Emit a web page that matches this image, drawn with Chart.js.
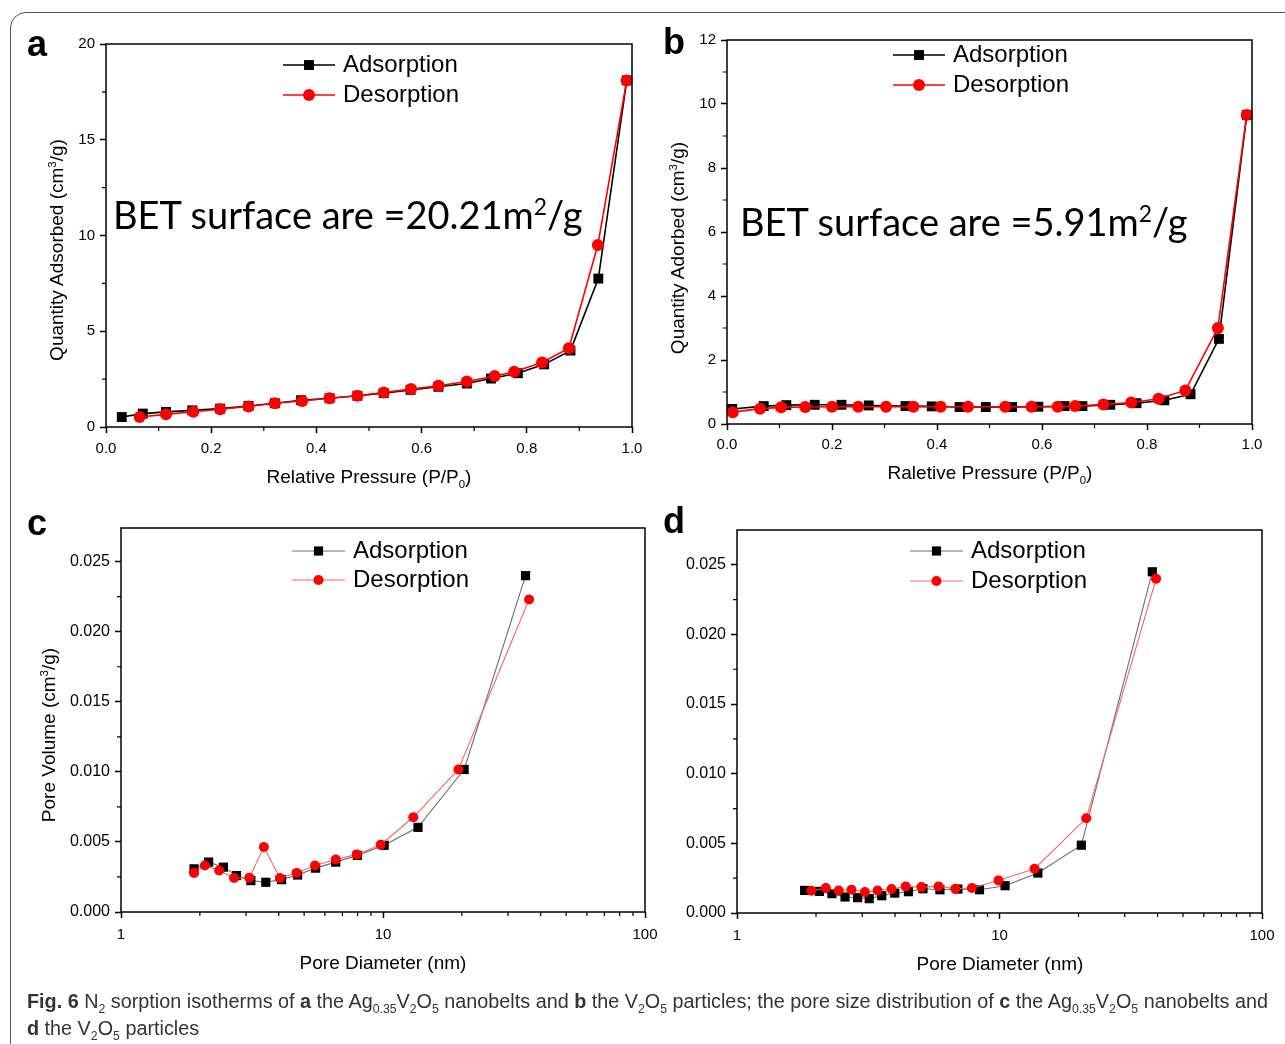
<!DOCTYPE html>
<html>
<head>
<meta charset="utf-8">
<script src="https://cdn.jsdelivr.net/npm/chart.js@4.4.0/dist/chart.umd.min.js"></script>
<style>
html, body { margin: 0; padding: 0; background: #fff; overflow: hidden; }
#page { position: relative; width: 1285px; height: 1044px; overflow: hidden; font-family: "Liberation Sans", Arial, sans-serif; }
#page canvas { position: absolute; left: 0; top: 0; }
.frame { position: absolute; left: 10px; top: 12px; width: 1320px; height: 1100px; border: 1.5px solid #555; border-radius: 16px; }
.t { position: absolute; white-space: nowrap; transform: translate(-50%, -50%); color: #000; }
.rot { transform: translate(-50%, -50%) rotate(-90deg); }
.letter { font-weight: bold; font-size: 36px; }
.axt { font-size: 19px; }
.axt sub, .axt sup { font-size: 60%; }
.bet { font-family: Lato, "Open Sans", sans-serif; font-size: 38px; transform: translate(0, -50%); }
.bet sup { font-size: 60%; }
#cap { position: absolute; left: 27px; top: 988px; font-family: "Liberation Sans", Arial, sans-serif; font-size: 20px; line-height: 27px; color: #333; white-space: nowrap; transform-origin: 0 0; }
#cap sub { font-size: 62%; line-height: 0; }
</style>
</head>
<body>
<div id="page">
  <div class="frame"></div>
  <canvas id="ca" width="1285" height="1044"></canvas>
  <canvas id="cb" width="1285" height="1044"></canvas>
  <canvas id="cc" width="1285" height="1044"></canvas>
  <canvas id="cd" width="1285" height="1044"></canvas>

  <div class="t letter" style="left:37px;top:44px">a</div>
  <div class="t letter" style="left:674px;top:42px">b</div>
  <div class="t letter" style="left:37px;top:523px">c</div>
  <div class="t letter" style="left:674px;top:521px">d</div>

  <div class="t bet" style="left:113px;top:214px">BET surface are =20.21m<sup>2</sup>/g</div>
  <div class="t bet" style="left:740px;top:221px">BET surface are =5.91m<sup>2</sup>/g</div>

  <div class="t axt" style="left:369px;top:478px">Relative Pressure (P/P<sub>0</sub>)</div>
  <div class="t axt" style="left:990px;top:474px">Raletive Pressure (P/P<sub>0</sub>)</div>
  <div class="t axt" style="left:383px;top:963px">Pore Diameter (nm)</div>
  <div class="t axt" style="left:1000px;top:964px">Pore Diameter (nm)</div>
  <div class="t axt rot" style="left:57px;top:250px">Quantity Adsorbed (cm<sup>3</sup>/g)</div>
  <div class="t axt rot" style="left:678px;top:248px">Quantity Adorbed (cm<sup>3</sup>/g)</div>
  <div class="t axt rot" style="left:49px;top:735px">Pore Volume (cm<sup>3</sup>/g)</div>

  <div id="cap">
    <div id="capLine1"><b>Fig. 6</b> N<sub>2</sub> sorption isotherms of <b>a</b> the Ag<sub>0.35</sub>V<sub>2</sub>O<sub>5</sub> nanobelts and <b>b</b> the V<sub>2</sub>O<sub>5</sub> particles; the pore size distribution of <b>c</b> the Ag<sub>0.35</sub>V<sub>2</sub>O<sub>5</sub> nanobelts and</div>
    <div><b>d</b> the V<sub>2</sub>O<sub>5</sub> particles</div>
  </div>
</div>

<script>
// panel a: N2 isotherm, Ag0.35V2O5
const aAdsX = [0.030, 0.070, 0.114, 0.164, 0.217, 0.271, 0.321, 0.371, 0.425, 0.478, 0.528, 0.579, 0.632, 0.686, 0.732, 0.783, 0.833, 0.883, 0.936, 0.990];
const aAdsY = [0.52, 0.70, 0.79, 0.87, 0.96, 1.10, 1.24, 1.40, 1.50, 1.63, 1.77, 1.94, 2.10, 2.27, 2.53, 2.81, 3.27, 3.99, 7.75, 18.1];
const aDesX = [0.064, 0.114, 0.166, 0.217, 0.271, 0.321, 0.373, 0.425, 0.478, 0.528, 0.580, 0.632, 0.686, 0.739, 0.776, 0.829, 0.880, 0.935, 0.990];
const aDesY = [0.52, 0.66, 0.80, 0.93, 1.07, 1.24, 1.36, 1.50, 1.63, 1.80, 1.98, 2.15, 2.38, 2.66, 2.88, 3.37, 4.11, 9.5, 18.1];

// panel b: N2 isotherm, V2O5
const bAdsX = [0.010, 0.070, 0.113, 0.167, 0.218, 0.270, 0.340, 0.390, 0.443, 0.493, 0.543, 0.593, 0.643, 0.677, 0.730, 0.780, 0.833, 0.883, 0.937, 0.990];
const bAdsY = [0.47, 0.56, 0.59, 0.60, 0.60, 0.58, 0.56, 0.55, 0.53, 0.53, 0.53, 0.54, 0.56, 0.56, 0.60, 0.65, 0.74, 0.93, 2.66, 9.66];
const bDesX = [0.011, 0.063, 0.103, 0.149, 0.200, 0.250, 0.303, 0.355, 0.407, 0.459, 0.530, 0.580, 0.630, 0.663, 0.717, 0.770, 0.822, 0.873, 0.935, 0.990];
const bDesY = [0.37, 0.48, 0.52, 0.53, 0.54, 0.54, 0.54, 0.54, 0.54, 0.54, 0.54, 0.54, 0.54, 0.56, 0.61, 0.67, 0.79, 1.05, 3.00, 9.66];

// panel c: pore size distribution, Ag0.35V2O5
const cAdsX = [1.90, 2.16, 2.46, 2.76, 3.13, 3.57, 4.10, 4.72, 5.53, 6.60, 7.98, 10.1, 13.6, 20.4, 35.0];
const cAdsY = [0.00308, 0.00356, 0.00320, 0.00260, 0.00224, 0.00212, 0.00231, 0.00264, 0.00313, 0.00356, 0.00404, 0.00476, 0.00604, 0.01017, 0.0240];
const cDesX = [1.90, 2.09, 2.37, 2.70, 3.09, 3.51, 4.04, 4.68, 5.50, 6.60, 7.94, 9.8, 13.05, 19.4, 36.1];
const cDesY = [0.00279, 0.00332, 0.00296, 0.00243, 0.00245, 0.00464, 0.00243, 0.00279, 0.00332, 0.00375, 0.00411, 0.00480, 0.00676, 0.01017, 0.0223];

// panel d: pore size distribution, V2O5
const dAdsX = [1.81, 2.06, 2.30, 2.58, 2.88, 3.19, 3.56, 3.99, 4.50, 5.11, 5.93, 6.94, 8.39, 10.5, 14.0, 20.5, 38.2];
const dAdsY = [0.00162, 0.00155, 0.00139, 0.00115, 0.00110, 0.00103, 0.00124, 0.00143, 0.00153, 0.00174, 0.00167, 0.00172, 0.00167, 0.00196, 0.00287, 0.00487, 0.0245];
const dDesX = [1.92, 2.18, 2.44, 2.73, 3.07, 3.43, 3.88, 4.39, 5.04, 5.86, 6.79, 7.85, 9.91, 13.6, 21.4, 39.5];
const dDesY = [0.00160, 0.00179, 0.00162, 0.00167, 0.00150, 0.00162, 0.00172, 0.00191, 0.00186, 0.00191, 0.00174, 0.00179, 0.00234, 0.00318, 0.0068, 0.0240];

// ticks
const pressureTicks = [0, 0.2, 0.4, 0.6, 0.8, 1.0];
const pressureMinor = [0.1, 0.3, 0.5, 0.7, 0.9];
const aYTicks = [0, 5, 10, 15, 20];
const aYMinor = [2.5, 7.5, 12.5, 17.5];
const bYTicks = [0, 2, 4, 6, 8, 10, 12];
const bYMinor = [1, 3, 5, 7, 9, 11];
const poreXTicks = [1, 10, 100];
const poreXMinor = [2, 3, 4, 5, 6, 7, 8, 9, 20, 30, 40, 50, 60, 70, 80, 90];
const poreYTicks = [0, 0.005, 0.010, 0.015, 0.020, 0.025];
const poreYMinor = [0.0025, 0.0075, 0.0125, 0.0175, 0.0225];

const seriesNames = ['Adsorption', 'Desorption'];

const FONT = '"Liberation Sans", Arial, sans-serif';
const W = 1285, H = 1044;

const pts = (xs, ys) => xs.map((x, i) => ({ x: x, y: ys[i] }));

// box, minor ticks and legend (line + marker) drawn on top
const decoPlugin = {
    id: 'deco',
    afterDraw(chart, args, o) {
        const { ctx, chartArea: ca, scales: { x, y } } = chart;
        ctx.save();
        ctx.strokeStyle = '#000';
        ctx.lineWidth = 1.5;
        ctx.strokeRect(ca.left, ca.top, ca.right - ca.left, ca.bottom - ca.top);

        ctx.lineWidth = 1.2;
        ctx.beginPath();
        o.xMinor.forEach(v => {
            const px = x.getPixelForValue(v);
            ctx.moveTo(px, ca.bottom);
            ctx.lineTo(px, ca.bottom + 4);
        });
        o.yMinor.forEach(v => {
            const py = y.getPixelForValue(v);
            ctx.moveTo(ca.left, py);
            ctx.lineTo(ca.left - 4, py);
        });
        ctx.stroke();

        const lg = o.legend;
        chart.data.datasets.forEach((ds, i) => {
            const ry = lg.y + i * lg.gap;
            ctx.strokeStyle = ds.borderColor;
            ctx.lineWidth = ds.borderWidth;
            ctx.beginPath();
            ctx.moveTo(lg.x, ry);
            ctx.lineTo(lg.x + lg.len, ry);
            ctx.stroke();
            ctx.fillStyle = ds.pointBackgroundColor;
            Chart.helpers.drawPoint(ctx, { pointStyle: ds.pointStyle, radius: ds.pointRadius, rotation: 0, borderWidth: 0 }, lg.x + lg.len / 2, ry);
            ctx.fillStyle = '#000';
            ctx.font = '24px ' + FONT;
            ctx.textBaseline = 'middle';
            ctx.textAlign = 'left';
            ctx.fillText(ds.label, lg.x + lg.len + 8, ry);
        });
        ctx.restore();
    }
};

function axis(type, min, max, ticks, fmt, isY, size, pad) {
    return {
        type: type,
        min: min,
        max: max,
        afterBuildTicks: s => { s.ticks = ticks.map(v => ({ value: v })); },
        afterFit: s => { if (isY) s.width = 60; else s.height = 40; },
        grid: { drawOnChartArea: false, drawTicks: true, tickLength: 6, tickColor: '#000', tickWidth: 1.5 },
        border: { display: false },
        ticks: {
            color: '#000',
            autoSkip: false,
            maxRotation: 0,
            padding: pad,
            font: { family: FONT, size: size },
            callback: v => fmt(v)
        }
    };
}

function makePanel(id, area, xAxis, yAxis, datasets, deco) {
    new Chart(document.getElementById(id), {
        type: 'scatter',
        data: { datasets: datasets },
        options: {
            responsive: false,
            animation: false,
            events: [],
            layout: {
                autoPadding: false,
                padding: { left: area.l - 60, top: area.t, right: W - area.r, bottom: H - area.b - 40 }
            },
            scales: { x: xAxis, y: yAxis },
            plugins: { legend: { display: false }, tooltip: { enabled: false }, deco: deco }
        },
        plugins: [decoPlugin]
    });
}

function isoSets(ax, ay, dx, dy) {
    return [
        { label: seriesNames[0], data: pts(ax, ay), showLine: true, borderColor: '#000', borderWidth: 1.6,
          pointStyle: 'rect', pointRadius: 7, pointBackgroundColor: '#000', pointBorderWidth: 0, order: 1, clip: false },
        { label: seriesNames[1], data: pts(dx, dy), showLine: true, borderColor: '#ff0000', borderWidth: 1.6,
          pointStyle: 'circle', pointRadius: 6, pointBackgroundColor: '#ff0000', pointBorderWidth: 0, order: 0, clip: false }
    ];
}

function poreSets(ax, ay, dx, dy) {
    return [
        { label: seriesNames[0], data: pts(ax, ay), showLine: true, borderColor: '#6e6e6e', borderWidth: 1.1,
          pointStyle: 'rect', pointRadius: 6.5, pointBackgroundColor: '#000', pointBorderWidth: 0, order: 1, clip: false },
        { label: seriesNames[1], data: pts(dx, dy), showLine: true, borderColor: '#ff6464', borderWidth: 1.1,
          pointStyle: 'circle', pointRadius: 5, pointBackgroundColor: '#ff0000', pointBorderWidth: 0, order: 0, clip: false }
    ];
}

const f1 = v => v.toFixed(1);
const f0 = v => String(v);
const f3 = v => v.toFixed(3);

makePanel('ca', { l: 106, t: 44, r: 632, b: 427 },
    axis('linear', 0, 1, pressureTicks, f1, false, 15, 7),
    axis('linear', 0, 20, aYTicks, f0, true, 15, 5),
    isoSets(aAdsX, aAdsY, aDesX, aDesY),
    { xMinor: pressureMinor, yMinor: aYMinor, legend: { x: 283, y: 65, len: 52, gap: 30 } });

makePanel('cb', { l: 727, t: 40, r: 1252, b: 424 },
    axis('linear', 0, 1, pressureTicks, f1, false, 15, 6),
    axis('linear', 0, 12, bYTicks, f0, true, 15, 5),
    isoSets(bAdsX, bAdsY, bDesX, bDesY),
    { xMinor: pressureMinor, yMinor: bYMinor, legend: { x: 893, y: 55, len: 52, gap: 30 } });

makePanel('cc', { l: 121, t: 528, r: 645, b: 912 },
    axis('logarithmic', 1, 100, poreXTicks, f0, false, 15, 8),
    axis('linear', 0, 0.0274, poreYTicks, f3, true, 16, 5),
    poreSets(cAdsX, cAdsY, cDesX, cDesY),
    { xMinor: poreXMinor, yMinor: poreYMinor, legend: { x: 292, y: 551, len: 53, gap: 29 } });

makePanel('cd', { l: 737, t: 530, r: 1262, b: 913 },
    axis('logarithmic', 1, 100, poreXTicks, f0, false, 15, 8),
    axis('linear', 0, 0.0275, poreYTicks, f3, true, 16, 5),
    poreSets(dAdsX, dAdsY, dDesX, dDesY),
    { xMinor: poreXMinor, yMinor: poreYMinor, legend: { x: 910, y: 551, len: 53, gap: 30 } });

// squeeze the caption horizontally so line 1 spans the frame like the condensed original
const cap = document.getElementById('cap');
const line1 = document.getElementById('capLine1');
const k = 1241 / line1.scrollWidth;
cap.style.transform = 'scaleX(' + k + ')';
</script>
</body>
</html>
